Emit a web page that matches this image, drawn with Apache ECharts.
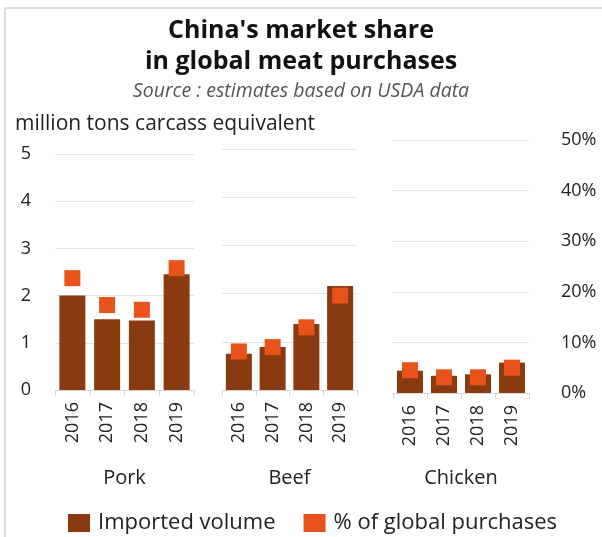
<!DOCTYPE html>
<html>
<head>
<meta charset="utf-8">
<script src="https://cdn.jsdelivr.net/npm/echarts@6/dist/echarts.min.js"></script>
<style>
html,body{margin:0;padding:0;background:#fff;}
#chart{width:602px;height:537px;}
</style>
</head>
<body>
<div id="chart"></div>
<script>
var years = ['2016', '2017', '2018', '2019'];
var groups = ['Pork', 'Beef', 'Chicken'];
var porkVolume = [2.0, 1.5, 1.47, 2.45];
var beefVolume = [0.75, 0.89, 1.37, 2.16];
var chickenVolume = [0.44, 0.34, 0.37, 0.60];
var porkShare = [23.7, 18, 17, 25.8];
var beefShare = [8, 8.9, 13, 19.6];
var chickenShare = [4.5, 3.1, 3.1, 5.0];
var volumeTicks = [0, 1, 2, 3, 4, 5];
var shareTicks = [0, 10, 20, 30, 40, 50];

var FONT = '"Open Sans", sans-serif';
var BROWN = '#8a3a10';
var ORANGE = '#e8521b';
var volumes = [porkVolume, beefVolume, chickenVolume];
var shares = [porkShare, beefShare, chickenShare];

var grids = [
  {left: 55, top: 154, width: 139, height: 236},
  {left: 222, top: 149, width: 135, height: 241},
  {left: 393, top: 140, width: 136, height: 253}
];
var nameGaps = [78, 78, 75];

var xAxes = [], yAxes = [], series = [];
groups.forEach(function (g, i) {
  xAxes.push({
    type: 'category', gridIndex: i, data: years,
    name: g, nameLocation: 'middle', nameGap: nameGaps[i],
    nameTextStyle: {fontFamily: FONT, fontSize: 20, color: '#222', verticalAlign: 'top'},
    axisLine: {lineStyle: {color: '#d9d9d9', width: 1}},
    axisTick: {show: true, alignWithLabel: false, length: 6, lineStyle: {color: '#d9d9d9'}},
    axisLabel: {rotate: 90, margin: 12, fontFamily: FONT, fontSize: 18, color: '#222'}
  });
  yAxes.push({
    type: 'value', gridIndex: i, min: volumeTicks[0], max: volumeTicks[volumeTicks.length - 1], interval: 1,
    position: 'left',
    axisLine: {show: false}, axisTick: {show: false},
    axisLabel: {show: i === 0, margin: 24, fontFamily: FONT, fontSize: 18, color: '#222'},
    splitLine: {show: true, lineStyle: {color: '#e3e3e3', width: 1}}
  });
  yAxes.push({
    type: 'value', gridIndex: i, min: shareTicks[0], max: shareTicks[shareTicks.length - 1], interval: 10,
    position: 'right',
    axisLine: {show: false}, axisTick: {show: false},
    axisLabel: {show: i === 2, margin: 32, fontFamily: FONT, fontSize: 18, color: '#222', formatter: '{value}%'},
    splitLine: {show: false}
  });
  series.push({
    name: 'Imported volume', type: 'bar', xAxisIndex: i, yAxisIndex: 2 * i,
    data: volumes[i], barWidth: 26, itemStyle: {color: BROWN}, z: 2
  });
  series.push({
    name: '% of global purchases', type: 'scatter', xAxisIndex: i, yAxisIndex: 2 * i + 1,
    data: shares[i], symbol: 'rect', symbolSize: [16, 16], itemStyle: {color: ORANGE, opacity: 1}, z: 3
  });
});

var chart = echarts.init(document.getElementById('chart'), null, {renderer: 'canvas'});
chart.setOption({
  animation: false,
  backgroundColor: '#fff',
  title: [
    {text: "China's market share\nin global meat purchases", left: 'center', top: 10,
     textStyle: {fontFamily: FONT, fontSize: 25, fontWeight: 'bold', color: '#111', lineHeight: 31}},
    {text: 'Source : estimates based on USDA data', left: 'center', top: 76,
     textStyle: {fontFamily: FONT, fontSize: 19.5, fontStyle: 'italic', fontWeight: 'normal', color: '#555'}},
    {text: 'million tons carcass equivalent', left: 10, top: 109,
     textStyle: {fontFamily: FONT, fontSize: 21, fontWeight: 'normal', color: '#222'}}
  ],
  legend: {
    top: 512, left: 68, padding: 0, itemWidth: 22, itemHeight: 18, itemGap: 28,
    icon: 'rect',
    textStyle: {fontFamily: FONT, fontSize: 22, color: '#222', padding: [0, 0, 0, 3]},
    data: [{name: 'Imported volume', itemStyle: {color: BROWN}},
           {name: '% of global purchases', itemStyle: {color: ORANGE}}]
  },
  grid: grids,
  xAxis: xAxes,
  yAxis: yAxes,
  series: series,
  graphic: [
    {type: 'line', shape: {x1: 5, y1: 8, x2: 602, y2: 8}, style: {stroke: '#dedede', lineWidth: 2}, silent: true},
    {type: 'line', shape: {x1: 5, y1: 8, x2: 5, y2: 537}, style: {stroke: '#dedede', lineWidth: 2}, silent: true}
  ]
});
</script>
</body>
</html>
